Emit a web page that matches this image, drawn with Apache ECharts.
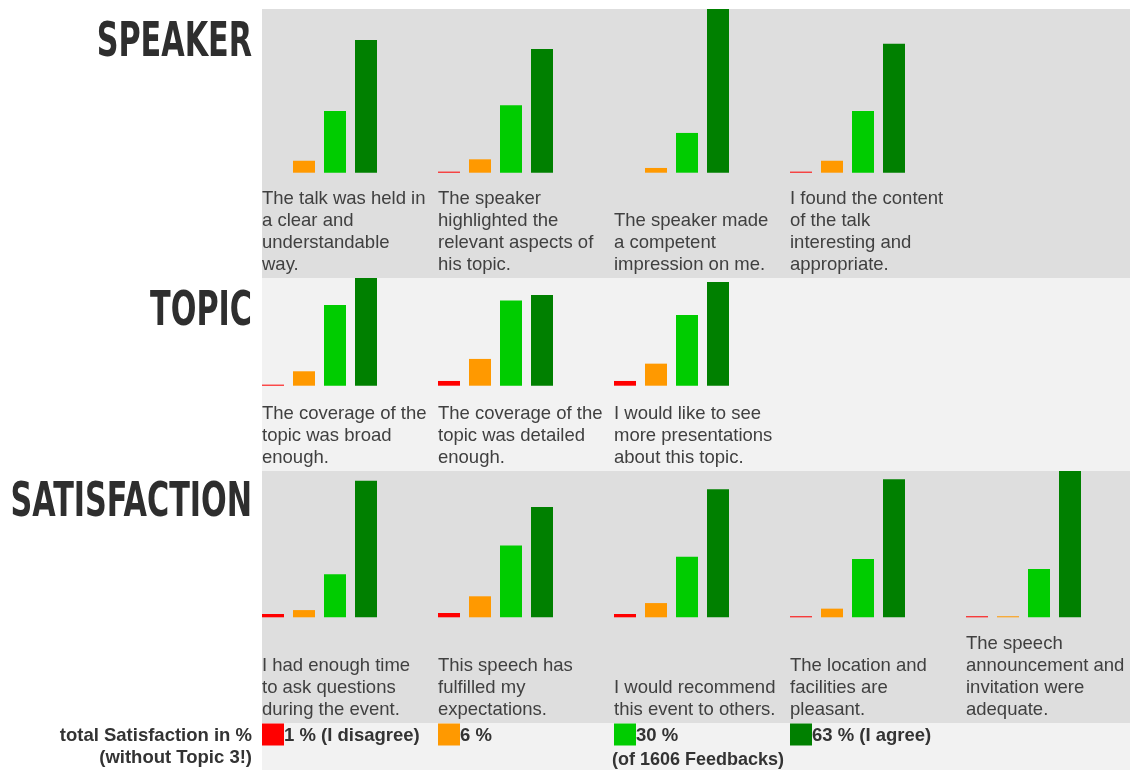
<!DOCTYPE html>
<html><head><meta charset="utf-8">
<script src="https://cdn.jsdelivr.net/npm/echarts@6/dist/echarts.min.js"></script>
<style>html,body{margin:0;padding:0;background:#fff}#c{width:1130px;height:770px}</style>
</head><body><div id="c"></div>
<script>
// ---------- DATA ----------
const answerCategories = ['I disagree', 'rather disagree', 'rather agree', 'I agree'];
const answerColors = ['#ff0000', '#ff9900', '#00cc00', '#008000'];

const sectionTitles = ['SPEAKER', 'TOPIC', 'SATISFACTION'];

const speakerQuestions = [
  'The talk was held in\na clear and\nunderstandable\nway.',
  'The speaker\nhighlighted the\nrelevant aspects of\nhis topic.',
  'The speaker made\na competent\nimpression on me.',
  'I found the content\nof the talk\ninteresting and\nappropriate.'
];
const speakerValues = [
  [0, 5.8, 30.0, 64.4],
  [0.5, 6.5, 32.7, 60.0],
  [0, 2.3, 19.3, 79.5],
  [0.5, 5.8, 30.0, 62.6]
];

const topicQuestions = [
  'The coverage of the\ntopic was broad\nenough.',
  'The coverage of the\ntopic was detailed\nenough.',
  'I would like to see\nmore presentations\nabout this topic.'
];
const topicValues = [
  [0.5, 7.0, 39.2, 53.0],
  [2.3, 13.0, 41.3, 44.0],
  [2.3, 10.7, 34.3, 50.3]
];

const satisfactionQuestions = [
  'I had enough time\nto ask questions\nduring the event.',
  'This speech has\nfulfilled my\nexpectations.',
  'I would recommend\nthis event to others.',
  'The location and\nfacilities are\npleasant.',
  'The speech\nannouncement and\ninvitation were\nadequate.'
];
const satisfactionValues = [
  [1.6, 3.5, 20.9, 66.3],
  [2.1, 10.2, 34.8, 53.5],
  [1.6, 6.9, 29.4, 62.1],
  [0.5, 4.2, 28.3, 67.0],
  [0.5, 0.5, 23.4, 74.0]
];

const totalTitleLines = ['total Satisfaction in %', '(without Topic 3!)'];
const totalLabels = ['1 % (I disagree)', '6 %', '30 %', '63 % (I agree)'];
const feedbackNote = '(of 1606 Feedbacks)';

// ---------- LAYOUT ----------
const PX_PER_PCT = 2.06;
const PANEL_X0 = 262, PANEL_STEP = 176;
const rows = [
  { title: sectionTitles[0], q: speakerQuestions, v: speakerValues, top: 9, base: 172.7, bottom: 278, bg: '#dedede', titleY: 43.5 },
  { title: sectionTitles[1], q: topicQuestions, v: topicValues, top: 278, base: 385.7, bottom: 471, bg: '#f2f2f2', titleY: 312.5 },
  { title: sectionTitles[2], q: satisfactionQuestions, v: satisfactionValues, top: 471, base: 617.3, bottom: 723, bg: '#dedede', titleY: 503.5 }
];
const LABEL_FONT = '18.5px "Liberation Sans", Arial, sans-serif';
const BOLD_FONT = 'bold 18.5px "Liberation Sans", Arial, sans-serif';

const grids = [], xAxes = [], yAxes = [], series = [], graphics = [];

rows.forEach(r => {
  graphics.push({ type: 'rect', z: -10, silent: true,
    shape: { x: PANEL_X0, y: r.top, width: 1130 - PANEL_X0, height: r.bottom - r.top },
    style: { fill: r.bg } });
});
graphics.push({ type: 'rect', z: -10, silent: true,
  shape: { x: PANEL_X0, y: 723, width: 1130 - PANEL_X0, height: 47 },
  style: { fill: '#f2f2f2' } });

let idx = 0;
rows.forEach(r => {
  graphics.push({ type: 'text', silent: true, x: 252, y: r.titleY, scaleX: 0.70,
    style: { text: r.title, x: 0, y: 0, align: 'right', verticalAlign: 'middle',
      font: 'bold 48px "DejaVu Sans Condensed", "DejaVu Sans", sans-serif', fill: '#2e2e2e' } });
  r.v.forEach((vals, i) => {
    const px = PANEL_X0 + PANEL_STEP * i;
    grids.push({ left: px - 4.5, top: r.top, width: 124, height: r.base - r.top, outerBoundsMode: 'none', containLabel: false });
    xAxes.push({ type: 'category', gridIndex: idx, data: answerCategories, show: false });
    yAxes.push({ type: 'value', gridIndex: idx, min: 0, max: (r.base - r.top) / PX_PER_PCT, show: false });
    series.push({ type: 'bar', xAxisIndex: idx, yAxisIndex: idx, barWidth: 22, silent: true,
      data: vals.map((v, k) => ({ value: v, itemStyle: { color: answerColors[k] } })) });
    graphics.push({ type: 'text', silent: true,
      style: { text: r.q[i], x: px, y: r.bottom - 2.5, align: 'left', verticalAlign: 'bottom',
        font: LABEL_FONT, lineHeight: 22, fill: '#404040' } });
    idx++;
  });
});

graphics.push({ type: 'text', silent: true,
  style: { text: totalTitleLines.join('\n'), x: 252, y: 725, align: 'right', verticalAlign: 'top',
    font: BOLD_FONT, lineHeight: 22, fill: '#333' } });
totalLabels.forEach((t, k) => {
  const px = PANEL_X0 + PANEL_STEP * k;
  graphics.push({ type: 'rect', silent: true, shape: { x: px, y: 723.5, width: 22, height: 22 },
    style: { fill: answerColors[k] } });
  graphics.push({ type: 'text', silent: true,
    style: { text: t, x: px + 22, y: 735.5, align: 'left', verticalAlign: 'middle',
      font: BOLD_FONT, fill: '#333' } });
});
graphics.push({ type: 'text', silent: true,
  style: { text: feedbackNote, x: 612, y: 760, align: 'left', verticalAlign: 'middle',
    font: 'bold 18px "Liberation Sans", Arial, sans-serif', fill: '#333' } });

const chart = echarts.init(document.getElementById('c'), null, { renderer: 'canvas' });
chart.setOption({
  animation: false,
  backgroundColor: '#ffffff',
  grid: grids, xAxis: xAxes, yAxis: yAxes, series: series,
  graphic: { elements: graphics }
});
</script></body></html>
